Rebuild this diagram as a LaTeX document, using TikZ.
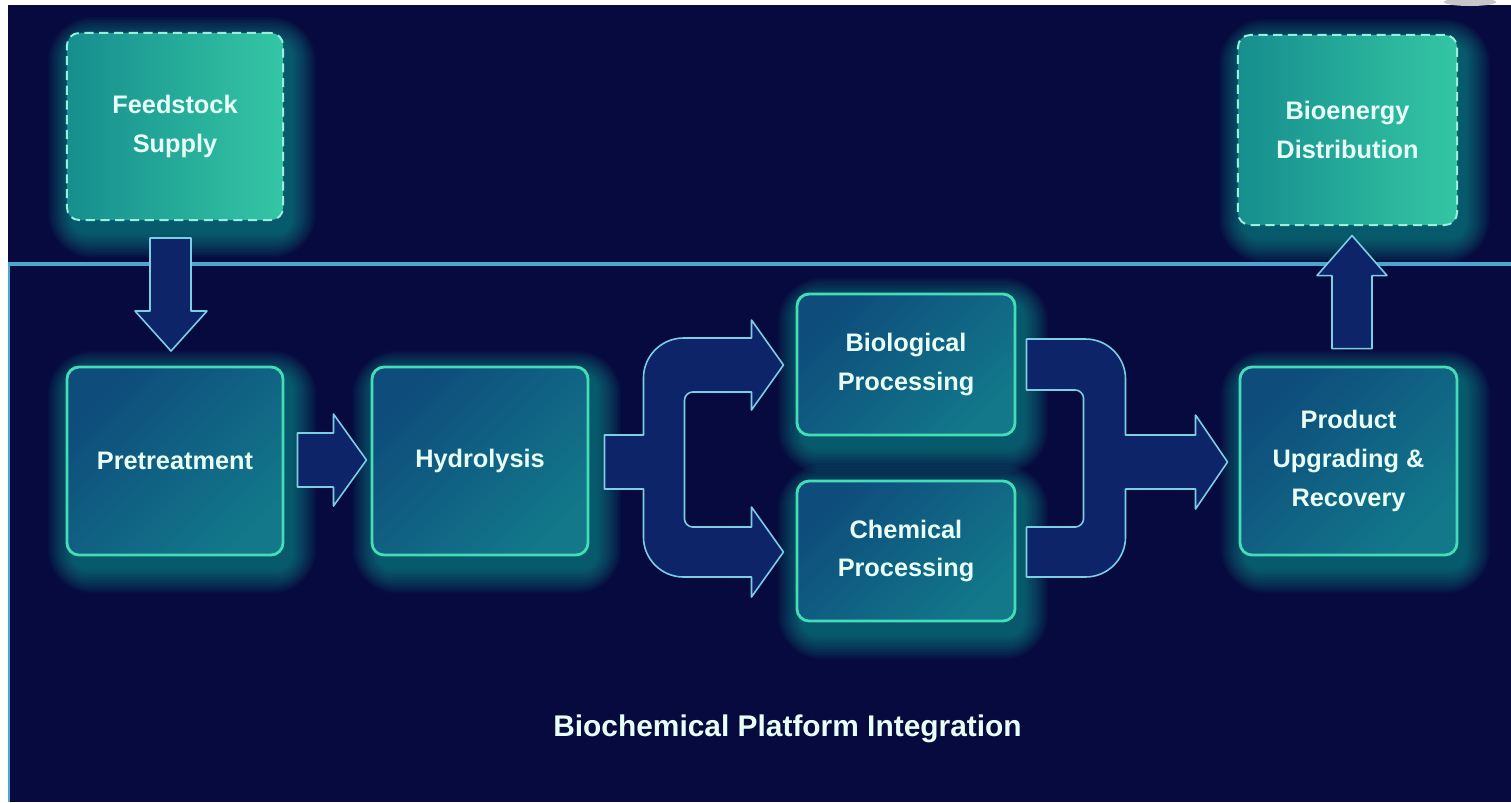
\documentclass[tikz,border=0pt]{standalone}
\usepackage{fontspec}
\setmainfont{Liberation Sans}
\usetikzlibrary{calc}
\definecolor{bgnavy}{HTML}{070A3E}
\definecolor{linec}{HTML}{4AA8D0}
\definecolor{boxA}{HTML}{0E4C7C}
\definecolor{boxB}{HTML}{12788A}
\definecolor{boxborder}{HTML}{45DDB5}
\definecolor{feedA}{HTML}{168E8E}
\definecolor{feedB}{HTML}{34C6A4}
\definecolor{dashborder}{HTML}{9AEEDD}
\definecolor{arrowfill}{HTML}{0D2568}
\definecolor{arrowdraw}{HTML}{7CCFE3}
\definecolor{textc}{HTML}{E8FFF8}
\definecolor{glowc}{HTML}{1FC6B0}
\pgfdeclarelayer{bg}
\pgfdeclarelayer{glow}
\pgfsetlayers{bg,glow,main}
\tikzset{
  procbox/.style={rectangle, rounded corners=3.5pt, draw=boxborder, line width=0.8pt,
    left color=boxA, right color=boxB, shading angle=45, text=textc,
    font=\bfseries\fontsize{7.2}{11}\selectfont, align=center, inner sep=0pt},
  endbox/.style={procbox, draw=dashborder, line width=0.55pt, dash pattern=on 2.6pt off 1.6pt,
    left color=feedA, right color=feedB},
  blockarrow/.style={fill=arrowfill, draw=arrowdraw, line width=0.45pt, line join=round},
  titletext/.style={text=textc, font=\bfseries\fontsize{8.5}{10}\selectfont, inner sep=0pt}
}
\newcommand\glowbox[1]{%
  \begin{pgfonlayer}{glow}
    \foreach \e in {1,2.5,...,26}{%
      \fill[glowc, opacity=0.035, rounded corners={4pt+0.35pt*\e}]
        ($(#1.north west)+(7-\e,10-\e)$) rectangle ($(#1.south east)+(7+\e,12+\e)$);}
  \end{pgfonlayer}}
\begin{document}
\begin{tikzpicture}[x=0.01cm, y=-0.01cm]
\useasboundingbox (0,0) rectangle (1511,802);
\begin{pgfonlayer}{bg}
  \fill[white] (0,0) rectangle (1511,802);
  \fill[bgnavy] (8,5) rectangle (1511,802);
  \fill[black!22] (1470,2) ellipse [x radius=26, y radius=4];
  \draw[linec, line width=0.9pt] (8,264) -- (1511,264);
  \draw[linec, line width=0.6pt] (9,264) -- (9,802);
\end{pgfonlayer}

% nodes
\node[endbox, minimum width=2.16cm, minimum height=1.87cm] (feed) at (175,126.5) {Feedstock\\Supply};
\node[endbox, minimum width=2.19cm, minimum height=1.90cm] (dist) at (1347.5,130) {Bioenergy\\Distribution};
\node[procbox, minimum width=2.16cm, minimum height=1.88cm] (pre) at (175,461) {Pretreatment};
\node[procbox, minimum width=2.16cm, minimum height=1.88cm] (hyd) at (480,461) {Hydrolysis};
\node[procbox, minimum width=2.18cm, minimum height=1.41cm] (bio) at (906,364.5) {Biological\\Processing};
\node[procbox, minimum width=2.18cm, minimum height=1.40cm] (chem) at (906,551) {Chemical\\Processing};
\node[procbox, minimum width=2.17cm, minimum height=1.88cm] (prod) at (1348.5,461) {Product\\Upgrading \&\\Recovery};
\node[titletext, anchor=base] (title) at (787.5,736) {Biochemical Platform Integration};

\glowbox{feed}
\glowbox{dist}
\glowbox{pre}
\glowbox{hyd}
\glowbox{bio}
\glowbox{chem}
\glowbox{prod}

% feed -> pre
\begin{scope}[shift={(feed.south)}]
\draw[blockarrow] (-25,17) -- ++(41,0) -- ++(0,73) -- ++(16,0) -- ++(-36,40) -- ++(-36,-40) -- ++(15,0) -- cycle;
\end{scope}
% pre -> hyd
\begin{scope}[shift={(pre.east)}]
\draw[blockarrow] (13,-28) -- ++(36,0) -- ++(0,-19) -- ++(33,46) -- ++(-33,46) -- ++(0,-19) -- ++(-36,0) -- cycle;
\end{scope}
% hyd -> bio / chem
\begin{scope}[shift={(hyd.east)}]
\draw[blockarrow] (15,-26) -- (54,-26) -- (54,-83)
  .. controls (54,-105) and (72,-123) .. (94,-123) -- (162,-123) -- (162,-141) -- (194,-96)
  -- (162,-51) -- (162,-69) -- (103,-69) .. controls (99,-69) and (95,-65) .. (95,-61)
  -- (95,58) .. controls (95,62) and (99,66) .. (103,66) -- (162,66) -- (162,46) -- (194,91)
  -- (162,136) -- (162,116) -- (94,116) .. controls (72,116) and (54,98) .. (54,76)
  -- (54,28) -- (15,28) -- cycle;
\end{scope}
% bio / chem -> prod
\begin{scope}[shift={(prod.west)}]
\draw[blockarrow] (-212,-122) -- (-153,-122) .. controls (-131,-122) and (-113,-104) .. (-113,-82)
  -- (-113,-26) -- (-43,-26) -- (-43,-46) -- (-11,1) -- (-43,48) -- (-43,28) -- (-113,28)
  -- (-113,76) .. controls (-113,98) and (-131,116) .. (-153,116) -- (-212,116) -- (-212,66)
  -- (-163,66) .. controls (-159,66) and (-155,62) .. (-155,58) -- (-155,-63)
  .. controls (-155,-67) and (-159,-71) .. (-163,-71) -- (-212,-71) -- cycle;
\end{scope}
% prod -> dist
\begin{scope}[shift={(prod.north)}]
\draw[blockarrow] (-16.5,-17) -- ++(40,0) -- ++(0,-73) -- ++(15,0) -- ++(-35,-40) -- ++(-35,40) -- ++(15,0) -- cycle;
\end{scope}
\end{tikzpicture}
\end{document}
